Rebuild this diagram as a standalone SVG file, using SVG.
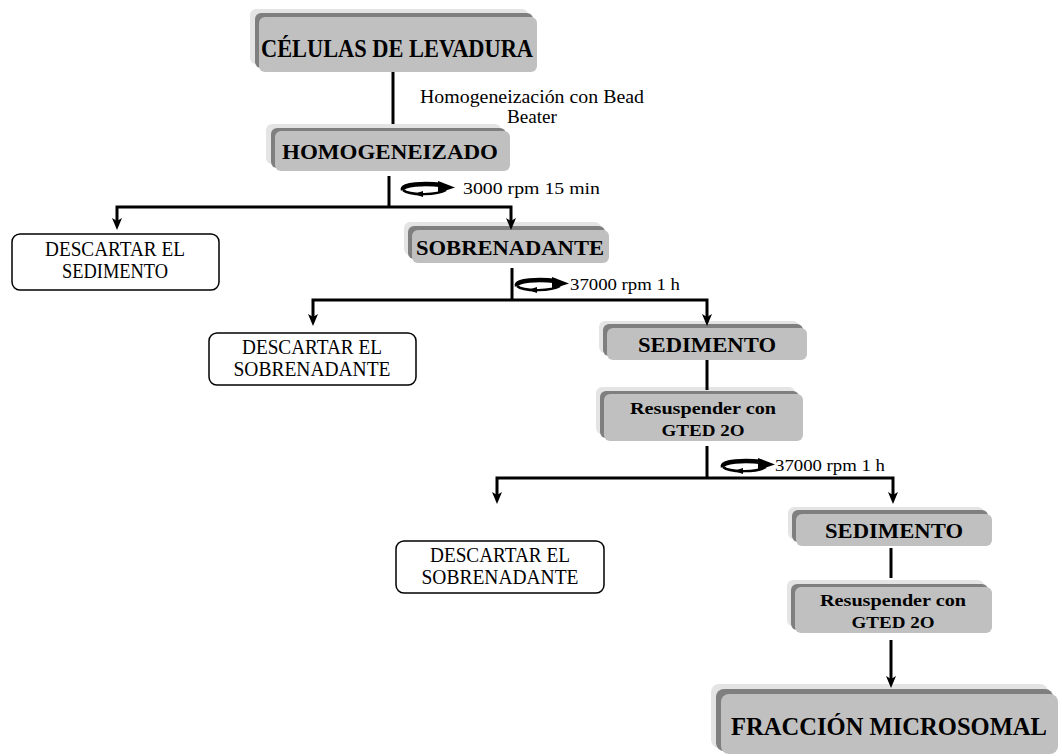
<svg xmlns="http://www.w3.org/2000/svg" width="1062" height="756" viewBox="0 0 1062 756">
<defs>
<style>
.bg{fill:#e4e4e4}
.dk{fill:#7f7f7f}
.fc{fill:#c0c0c0}
.t{font-family:"Liberation Serif","DejaVu Serif",serif;fill:#000}
.b{font-weight:bold}
.wb{fill:#fff;stroke:#000;stroke-width:1.5}
.ln{stroke:#000;stroke-width:3;fill:none}
.ah{fill:#000}
</style>
<path id="arr" d="M-5,-10 L0,-7 L5,-10 L0,2 Z"/>
<g id="rot">
<path d="M3,6 C1,0 25,-1 42,1" stroke="#000" stroke-width="4.5" fill="none"/>
<path d="M38,-3 L55,3.5 L38,9 Z" fill="#000"/>
<path d="M46,6 C38,11 10,12 3,6" stroke="#000" stroke-width="2.5" fill="none"/>
<path d="M23,7 L14,10 L23,13 Z" fill="#000"/>
</g>
</defs>
<rect width="1062" height="756" fill="#fff"/>

<g id="lbl-homog">
<text class="t" x="532" y="103" font-size="18" text-anchor="middle" textLength="224" lengthAdjust="spacingAndGlyphs">Homogeneización con Bead</text>
<text class="t" x="532" y="123" font-size="18" text-anchor="middle" textLength="50" lengthAdjust="spacingAndGlyphs">Beater</text>
</g>
<g id="lbl-rpm1"><text class="t" x="463" y="194" font-size="17" textLength="137" lengthAdjust="spacingAndGlyphs">3000 rpm 15 min</text></g>
<g id="lbl-rpm2"><text class="t" x="570" y="290" font-size="17" textLength="110" lengthAdjust="spacingAndGlyphs">37000 rpm 1 h</text></g>
<g id="lbl-rpm3"><text class="t" x="775" y="471" font-size="17" textLength="110" lengthAdjust="spacingAndGlyphs">37000 rpm 1 h</text></g>

<g id="n-celulas">
<rect class="bg" x="250" y="9" width="278" height="55" rx="6"/>
<rect class="dk" x="255" y="13" width="278" height="55" rx="6"/>
<rect class="fc" x="259" y="17" width="278" height="55" rx="6"/>
<text class="t b" x="397" y="57" font-size="25" text-anchor="middle" textLength="272" lengthAdjust="spacingAndGlyphs">CÉLULAS DE LEVADURA</text>
</g>

<g id="n-homog">
<rect class="bg" x="266" y="124" width="235" height="40" rx="6"/>
<rect class="dk" x="271" y="128" width="235" height="40" rx="6"/>
<rect class="fc" x="275" y="131" width="235" height="40" rx="6"/>
<text class="t b" x="390" y="159" font-size="21" text-anchor="middle" textLength="216" lengthAdjust="spacingAndGlyphs">HOMOGENEIZADO</text>
</g>

<g id="n-desc1">
<rect class="wb" x="12" y="234" width="207" height="56" rx="8"/>
<text class="t" x="115" y="256" font-size="20" text-anchor="middle" textLength="140" lengthAdjust="spacingAndGlyphs">DESCARTAR EL</text>
<text class="t" x="115" y="278" font-size="20" text-anchor="middle" textLength="106" lengthAdjust="spacingAndGlyphs">SEDIMENTO</text>
</g>

<g id="n-sobre">
<rect class="bg" x="404" y="222" width="197" height="33" rx="6"/>
<rect class="dk" x="408" y="226" width="197" height="33" rx="6"/>
<rect class="fc" x="412" y="230" width="197" height="33" rx="6"/>
<text class="t b" x="510" y="255" font-size="22" text-anchor="middle" textLength="188" lengthAdjust="spacingAndGlyphs">SOBRENADANTE</text>
</g>

<g id="n-desc2">
<rect class="wb" x="209" y="333" width="207" height="52" rx="8"/>
<text class="t" x="312" y="354" font-size="20" text-anchor="middle" textLength="140" lengthAdjust="spacingAndGlyphs">DESCARTAR EL</text>
<text class="t" x="312" y="376" font-size="20" text-anchor="middle" textLength="157" lengthAdjust="spacingAndGlyphs">SOBRENADANTE</text>
</g>

<g id="n-sed1">
<rect class="bg" x="599" y="321" width="200" height="32" rx="6"/>
<rect class="dk" x="603" y="324" width="200" height="32" rx="6"/>
<rect class="fc" x="607" y="328" width="200" height="32" rx="6"/>
<text class="t b" x="707" y="352" font-size="21" text-anchor="middle" textLength="138" lengthAdjust="spacingAndGlyphs">SEDIMENTO</text>
</g>

<g id="n-res1">
<rect class="bg" x="596" y="387" width="199" height="47" rx="6"/>
<rect class="dk" x="600" y="391" width="199" height="47" rx="6"/>
<rect class="fc" x="604" y="394" width="199" height="47" rx="6"/>
<text class="t b" x="703" y="414" font-size="17.5" text-anchor="middle" textLength="146" lengthAdjust="spacingAndGlyphs">Resuspender con</text>
<text class="t b" x="703" y="436" font-size="17.5" text-anchor="middle" textLength="83" lengthAdjust="spacingAndGlyphs">GTED 2O</text>
</g>

<g id="n-desc3">
<rect class="wb" x="396" y="541" width="208" height="52" rx="8"/>
<text class="t" x="500" y="562" font-size="20" text-anchor="middle" textLength="140" lengthAdjust="spacingAndGlyphs">DESCARTAR EL</text>
<text class="t" x="500" y="584" font-size="20" text-anchor="middle" textLength="157" lengthAdjust="spacingAndGlyphs">SOBRENADANTE</text>
</g>

<g id="n-sed2">
<rect class="bg" x="788" y="507" width="196" height="32" rx="6"/>
<rect class="dk" x="792" y="510" width="196" height="32" rx="6"/>
<rect class="fc" x="796" y="514" width="196" height="32" rx="6"/>
<text class="t b" x="894" y="538" font-size="21" text-anchor="middle" textLength="138" lengthAdjust="spacingAndGlyphs">SEDIMENTO</text>
</g>

<g id="n-res2">
<rect class="bg" x="787" y="580" width="197" height="46" rx="6"/>
<rect class="dk" x="791" y="584" width="197" height="46" rx="6"/>
<rect class="fc" x="795" y="587" width="197" height="46" rx="6"/>
<text class="t b" x="893" y="606" font-size="17.5" text-anchor="middle" textLength="146" lengthAdjust="spacingAndGlyphs">Resuspender con</text>
<text class="t b" x="893" y="628" font-size="17.5" text-anchor="middle" textLength="83" lengthAdjust="spacingAndGlyphs">GTED 2O</text>
</g>

<g id="n-fraccion">
<rect class="bg" x="711" y="684" width="337" height="64" rx="8"/>
<rect class="dk" x="716" y="689" width="337" height="62" rx="8"/>
<rect class="fc" x="721" y="694" width="337" height="60" rx="8"/>
<text class="t b" x="889" y="735" font-size="26" text-anchor="middle" textLength="316" lengthAdjust="spacingAndGlyphs">FRACCIÓN MICROSOMAL</text>
</g>

<g id="connectors">
<line class="ln" x1="393" y1="72" x2="393" y2="124"/>
<line class="ln" x1="389" y1="176" x2="389" y2="207"/>
<polyline class="ln" points="117,223 117,207 511,207 511,223"/>
<use href="#arr" class="ah" x="117" y="228"/>
<use href="#arr" class="ah" x="511" y="228"/>
<line class="ln" x1="512" y1="268" x2="512" y2="300"/>
<polyline class="ln" points="313,318 313,300 707,300 707,318"/>
<use href="#arr" class="ah" x="313" y="324"/>
<use href="#arr" class="ah" x="707" y="324"/>
<line class="ln" x1="707" y1="360" x2="707" y2="390"/>
<line class="ln" x1="707" y1="446" x2="707" y2="478"/>
<polyline class="ln" points="497,496 497,478 893,478 893,496"/>
<use href="#arr" class="ah" x="497" y="502"/>
<use href="#arr" class="ah" x="893" y="502"/>
<line class="ln" x1="891" y1="548" x2="891" y2="578"/>
<line class="ln" x1="891" y1="640" x2="891" y2="680"/>
<use href="#arr" class="ah" x="891" y="686"/>
<use href="#rot" x="400" y="184"/>
<use href="#rot" x="514" y="280"/>
<use href="#rot" x="720" y="461"/>
</g>
</svg>
